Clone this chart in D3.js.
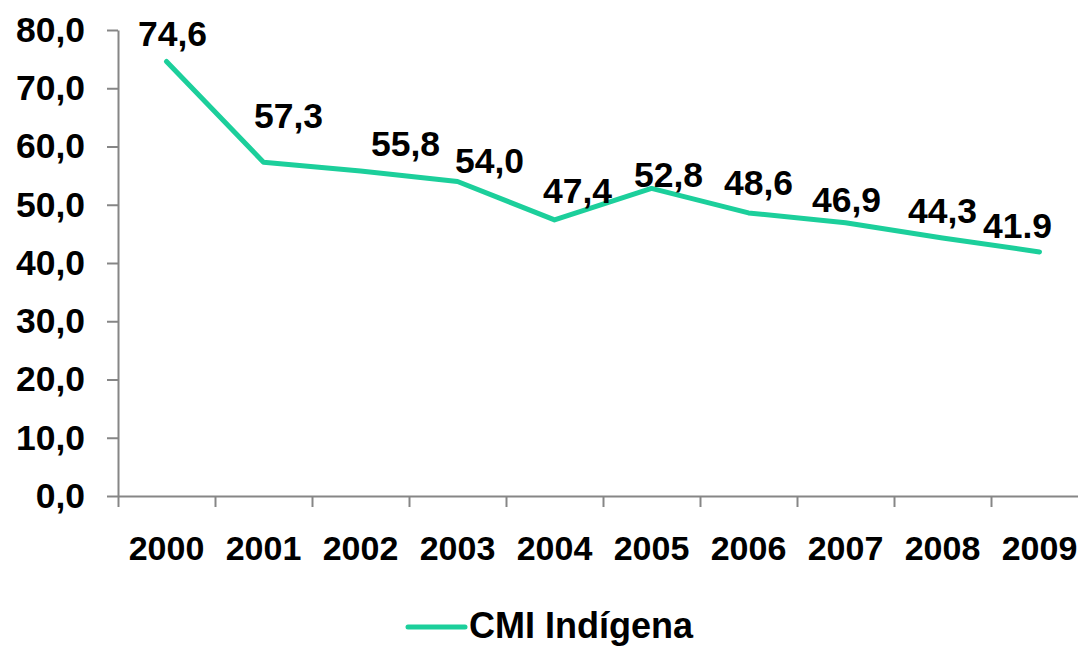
<!DOCTYPE html>
<html lang="pt">
<head>
<meta charset="utf-8">
<title>CMI Indígena 2000-2009</title>
<script src="https://cdn.jsdelivr.net/npm/d3@7"></script>
<style>
  body { margin: 0; background: #fff; }
  svg text { font-family: "Liberation Sans", Arial, sans-serif; font-weight: bold; fill: #000; }
  .axis path, .axis line { stroke: #868686; stroke-width: 2px; }
  .axis text { font-size: 34px; }
  .yaxis text { font-size: 35.5px; }
  .vlabel { font-size: 35.5px; text-anchor: middle; }
  .legend { font-size: 36px; }
</style>
</head>
<body>
<script>
// data
var years = ["2000","2001","2002","2003","2004","2005","2006","2007","2008","2009"];
var cmi = [74.6, 57.3, 55.8, 54.0, 47.4, 52.8, 48.6, 46.9, 44.3, 41.9];
var valueLabels = ["74,6","57,3","55,8","54,0","47,4","52,8","48,6","46,9","44,3","41.9"];
var yTicks = [0, 10, 20, 30, 40, 50, 60, 70, 80];
var seriesName = "CMI Indígena";

// label nudges (px, relative to the point)
var labelDx = [6, 25, 45, 32, 23, 17, 10, 1, 0, -22];
var labelDy = [-15, -34, -15, -8, -17, -1, -18, -11, -15, -14];

var w = 1078, h = 646;
var padL = 118, padR = 1088, padT = 30, padB = 496;
var lineColor = "#1ccf9b";

var svg = d3.select("body").append("svg").attr("width", w).attr("height", h);

var x = d3.scaleBand().domain(years).range([padL, padR]).padding(0);
var xi = d3.scaleLinear().domain([0, years.length]).range([padL, padR]);
var y = d3.scaleLinear().domain([0, 80]).range([padB, padT]);

var loc = d3.formatLocale({decimal: ",", thousands: ".", grouping: [3], currency: ["", ""]});
var fmt = loc.format(".1f");

// y axis
svg.append("g").attr("class", "axis yaxis")
   .attr("transform", "translate(" + padL + ",0)")
   .call(d3.axisLeft(y).tickValues(yTicks).tickFormat(fmt).tickSize(11).tickSizeOuter(0).tickPadding(22));

// x axis: ticks on category boundaries
svg.append("g").attr("class", "axis")
   .attr("transform", "translate(0," + padB + ")")
   .call(d3.axisBottom(xi).tickValues(d3.range(0, years.length + 1)).tickFormat("").tickSize(11).tickSizeOuter(0));

// x labels at band centres
var xl = svg.append("g").attr("class", "axis")
   .attr("transform", "translate(0," + padB + ")")
   .call(d3.axisBottom(x).tickSize(0).tickPadding(40));
xl.select(".domain").remove();

// line
var line = d3.line()
   .x(function(d, i) { return x(years[i]) + x.bandwidth() / 2; })
   .y(function(d) { return y(d); });

svg.append("path").datum(cmi)
   .attr("d", line)
   .attr("fill", "none")
   .attr("stroke", lineColor)
   .attr("stroke-width", 5)
   .attr("stroke-linecap", "round")
   .attr("stroke-linejoin", "round");

// value labels
svg.selectAll(".vlabel").data(cmi).enter().append("text")
   .attr("class", "vlabel")
   .attr("x", function(d, i) { return x(years[i]) + x.bandwidth() / 2 + labelDx[i]; })
   .attr("y", function(d, i) { return y(d) + labelDy[i]; })
   .text(function(d, i) { return valueLabels[i]; });

// legend
var lg = svg.append("g").attr("transform", "translate(408,627)");
lg.append("line").attr("x1", 0).attr("x2", 57).attr("y1", 0).attr("y2", 0)
  .attr("stroke", lineColor).attr("stroke-width", 5).attr("stroke-linecap", "round");
lg.append("text").attr("class", "legend").attr("x", 61).attr("y", 11).text(seriesName);
</script>
</body>
</html>
